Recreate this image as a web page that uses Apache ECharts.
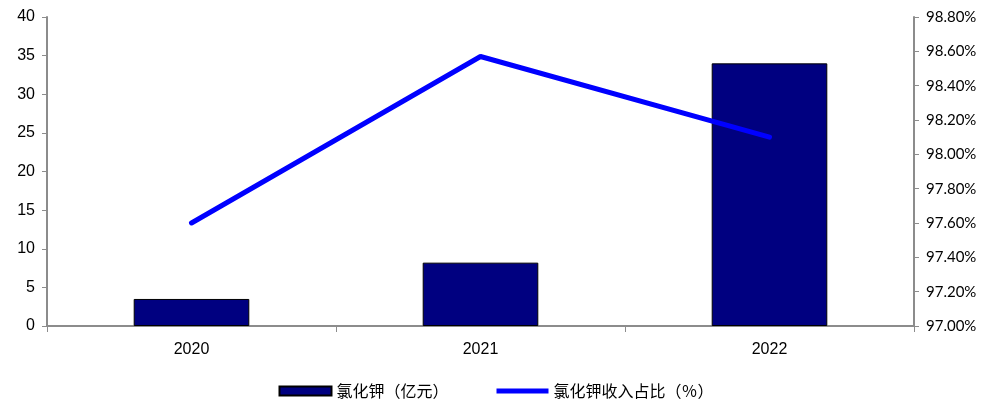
<!DOCTYPE html>
<html>
<head>
<meta charset="utf-8">
<script src="https://cdn.jsdelivr.net/npm/echarts@6/dist/echarts.min.js"></script>
<style>
  html, body { margin: 0; padding: 0; background: #fff; }
  #chart { width: 992px; height: 401px; }
</style>
</head>
<body>
<div id="chart"></div>
<script>
// Years on the category axis
const years = ['2020', '2021', '2022'];
// Potassium chloride revenue, 100 million yuan
const revenue = [3.5, 8.2, 34.0];
// Share of total revenue, percent
const share = [97.60, 98.57, 98.10];
// Series names shown in the legend
const seriesNames = ['氯化钾（亿元）', '氯化钾收入占比（％）'];

const chart = echarts.init(document.getElementById('chart'));
const axisGray = '#8c8c8c';

chart.setOption({
  animation: false,
  grid: { left: 47, right: 78, top: 17, bottom: 75 },
  legend: {
    top: 378,
    left: 'center',
    itemGap: 48,
    itemWidth: 52,
    itemHeight: 9,
    textStyle: { fontFamily: 'Noto Sans CJK SC', fontSize: 16, color: '#000' },
    data: [
      { name: seriesNames[0], icon: 'rect' },
      // thin bar icon standing in for the thick line
      { name: seriesNames[1], icon: 'path://M0 0H104V10H0Z', itemStyle: { color: '#0000ff' } }
    ]
  },
  xAxis: {
    type: 'category',
    data: years,
    axisLine: { lineStyle: { color: axisGray, width: 2 } },
    axisTick: { show: true, length: 6, lineStyle: { color: axisGray } },
    axisLabel: { fontFamily: 'Liberation Sans', fontSize: 16, color: '#000', margin: 16 }
  },
  yAxis: [
    {
      type: 'value',
      min: 0, max: 40, interval: 5,
      splitLine: { show: false },
      axisLine: { show: true, lineStyle: { color: axisGray, width: 2 } },
      axisTick: { show: true, length: 5, lineStyle: { color: axisGray } },
      axisLabel: { fontFamily: 'Liberation Sans', fontSize: 16, color: '#000', margin: 12 }
    },
    {
      type: 'value',
      min: 97.0, max: 98.8, interval: 0.2,
      splitLine: { show: false },
      axisLine: { show: true, lineStyle: { color: axisGray, width: 2 } },
      axisTick: { show: true, length: 5, lineStyle: { color: axisGray } },
      axisLabel: {
        fontFamily: 'Lato', fontSize: 15, color: '#000', margin: 12,
        formatter: v => v.toFixed(2) + '%'
      }
    }
  ],
  series: [
    {
      name: seriesNames[0],
      type: 'bar',
      data: revenue,
      barWidth: '40%',
      itemStyle: { color: '#000080', borderColor: '#000', borderWidth: 1 }
    },
    {
      name: seriesNames[1],
      type: 'line',
      yAxisIndex: 1,
      data: share,
      symbol: 'none',
      lineStyle: { color: '#0000ff', width: 5, cap: 'round' },
      itemStyle: { color: '#0000ff' }
    }
  ]
});
</script>
</body>
</html>
